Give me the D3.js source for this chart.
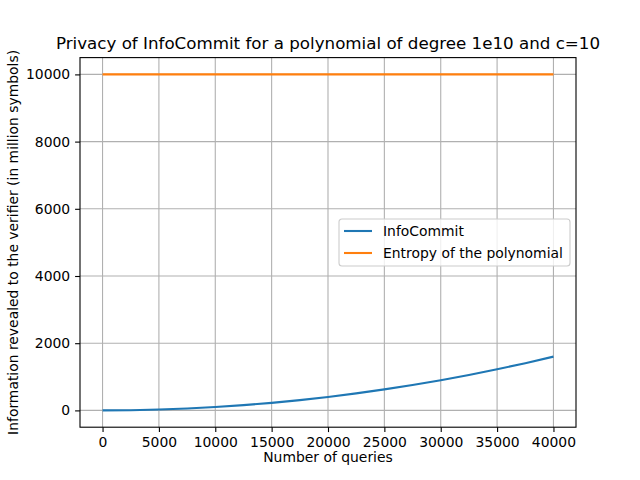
<!DOCTYPE html>
<html>
<head>
<meta charset="utf-8">
<script src="https://cdn.jsdelivr.net/npm/d3@7"></script>
<style>
  body { margin: 0; background: #fff; }
  svg { font-family: "DejaVu Sans", sans-serif; }
</style>
</head>
<body>
<svg id="chart" width="640" height="480"></svg>
<script>
// queries and revealed information
var queries = [0, 2500, 5000, 7500, 10000, 12500, 15000, 17500, 20000, 22500, 25000,
               27500, 30000, 32500, 35000, 37500, 40000];
var infoCommit = [0, 6, 25, 56, 100, 156, 225, 306, 400, 506, 625,
                  756, 900, 1056, 1225, 1406, 1600];
var entropyX = [0, 40000];
var entropy = [10000, 10000];
var xTicks = [0, 5000, 10000, 15000, 20000, 25000, 30000, 35000, 40000];
var yTicks = [0, 2000, 4000, 6000, 8000, 10000];
var seriesNames = ["InfoCommit", "Entropy of the polynomial"];
var colors = ["#1f77b4", "#ff7f0e"];

var margin = { top: 57.6, right: 64, bottom: 52.8, left: 80 };
var width = 640 - margin.left - margin.right;
var height = 480 - margin.top - margin.bottom;

var svg = d3.select("#chart");
var g = svg.append("g")
  .attr("transform", "translate(" + margin.left + "," + margin.top + ")");

var x = d3.scaleLinear().domain([-2000, 42000]).range([0, width]);
var y = d3.scaleLinear().domain([-500, 10500]).range([height, 0]);

// grid
g.selectAll(".xgrid").data(xTicks).enter().append("line")
  .attr("x1", function(d) { return x(d); }).attr("x2", function(d) { return x(d); })
  .attr("y1", 0).attr("y2", height)
  .attr("stroke", "#b0b0b0").attr("stroke-width", 1.1);
g.selectAll(".ygrid").data(yTicks).enter().append("line")
  .attr("y1", function(d) { return y(d); }).attr("y2", function(d) { return y(d); })
  .attr("x1", 0).attr("x2", width)
  .attr("stroke", "#b0b0b0").attr("stroke-width", 1.1);

// lines
var line = d3.line()
  .x(function(d) { return x(d[0]); })
  .y(function(d) { return y(d[1]); });

g.append("path")
  .datum(d3.zip(queries, infoCommit))
  .attr("d", line)
  .attr("fill", "none").attr("stroke", colors[0]).attr("stroke-width", 2.1);
g.append("path")
  .datum(d3.zip(entropyX, entropy))
  .attr("d", line)
  .attr("fill", "none").attr("stroke", colors[1]).attr("stroke-width", 2.1);

// axes
var xAxis = g.append("g")
  .attr("transform", "translate(0," + height + ")")
  .call(d3.axisBottom(x).tickValues(xTicks).tickSize(4.9).tickPadding(4.9).tickFormat(d3.format("d")));
var yAxis = g.append("g")
  .call(d3.axisLeft(y).tickValues(yTicks).tickSize(4.9).tickPadding(4.9).tickFormat(d3.format("d")));
[xAxis, yAxis].forEach(function(a) {
  a.select(".domain").remove();
  a.selectAll("line").attr("stroke", "#000").attr("stroke-width", 1.1);
  a.selectAll("text").attr("font-size", "13.9px").attr("fill", "#000")
    .style("font-family", "DejaVu Sans");
});

// frame
g.append("rect")
  .attr("width", width).attr("height", height)
  .attr("fill", "none").attr("stroke", "#000").attr("stroke-width", 1.1);

// labels
svg.append("text")
  .attr("x", margin.left + width / 2).attr("y", 462)
  .attr("text-anchor", "middle").attr("font-size", "13.9px")
  .text("Number of queries");
svg.append("text")
  .attr("transform", "rotate(-90)")
  .attr("x", -(margin.top + height / 2)).attr("y", 18)
  .attr("text-anchor", "middle").attr("font-size", "13.9px")
  .text("Information revealed to the verifier (in million symbols)");
svg.append("text")
  .attr("x", margin.left + width / 2).attr("y", 49)
  .attr("text-anchor", "middle").attr("font-size", "16.7px")
  .text("Privacy of InfoCommit for a polynomial of degree 1e10 and c=10");

// legend
var legend = svg.append("g").attr("transform", "translate(339,219)");
legend.append("rect")
  .attr("width", 231).attr("height", 47).attr("rx", 3)
  .attr("fill", "#fff").attr("fill-opacity", 0.8)
  .attr("stroke", "#cccccc").attr("stroke-width", 1.1);
seriesNames.forEach(function(name, i) {
  var yy = 12 + i * 22;
  legend.append("line")
    .attr("x1", 5).attr("x2", 33).attr("y1", yy).attr("y2", yy)
    .attr("stroke", colors[i]).attr("stroke-width", 2.1);
  legend.append("text")
    .attr("x", 44).attr("y", yy + 5).attr("font-size", "13.9px")
    .text(name);
});
</script>
</body>
</html>
